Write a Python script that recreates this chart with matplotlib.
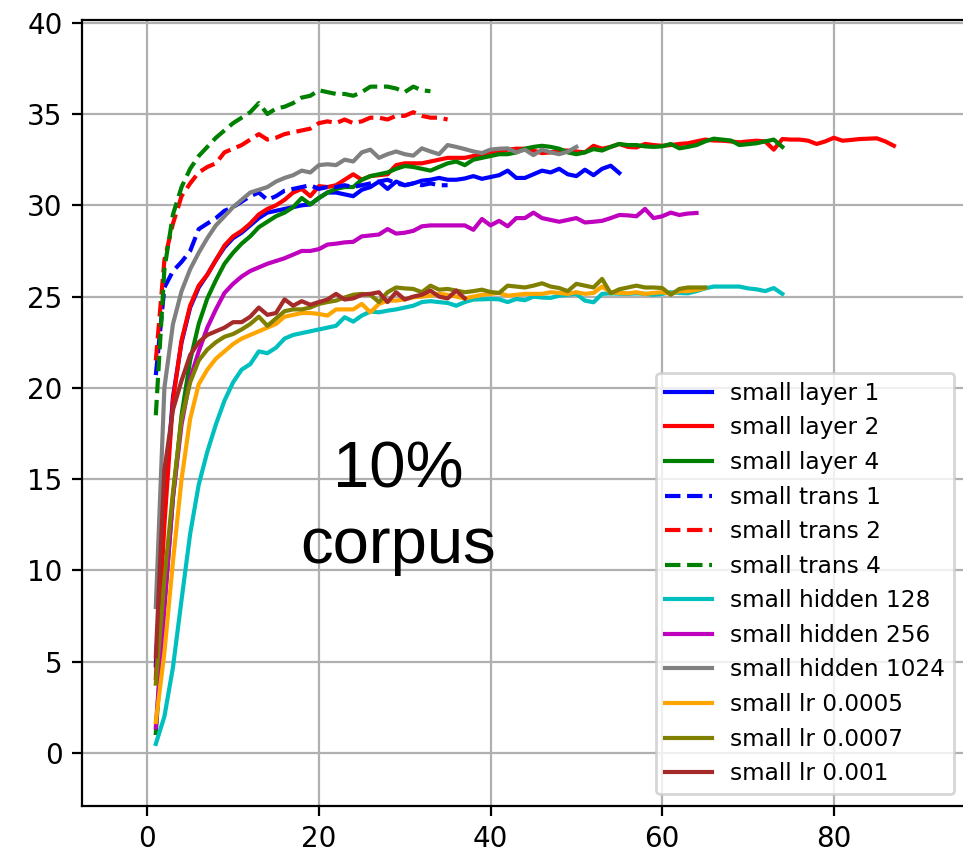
import numpy as np
import matplotlib
matplotlib.use("Agg")
import matplotlib.pyplot as plt

labels = ["small layer 1", "small layer 2", "small layer 4",
          "small trans 1", "small trans 2", "small trans 4",
          "small hidden 128", "small hidden 256", "small hidden 1024",
          "small lr 0.0005", "small lr 0.0007", "small lr 0.001"]

layer1 = [4.8, 13.5, 19.5, 22.5, 24.4, 25.5, 26.2, 27.0, 27.7, 28.2,
          28.5, 28.9, 29.3, 29.6, 29.7, 29.8, 29.9, 30.0, 30.05, 30.4,
          30.7, 30.7, 30.6, 30.5, 30.85, 31.0, 31.3, 30.9, 31.3, 31.1,
          31.2, 31.35, 31.4, 31.5, 31.4, 31.4, 31.47, 31.6, 31.45, 31.55,
          31.65, 31.9, 31.5, 31.5, 31.7, 31.9, 31.8, 32.0, 31.7, 31.6,
          31.95, 31.65, 32.0, 32.17, 31.77]
layer2 = [4.1, 12.5, 19.3, 22.6, 24.5, 25.6, 26.2, 27.0, 27.8, 28.3,
          28.6, 29.0, 29.5, 29.8, 30.0, 30.3, 30.7, 30.9, 30.5, 31.05,
          31.0, 31.1, 31.4, 31.7, 31.4, 31.6, 31.65, 31.7, 32.2, 32.3,
          32.3, 32.3, 32.4, 32.5, 32.6, 32.6, 32.6, 32.7, 32.8, 32.9,
          32.9, 33.05, 33.1, 33.1, 33.0, 32.86, 32.9, 33.0, 33.0, 32.95,
          32.9, 33.26, 33.1, 33.2, 33.36, 33.2, 33.17, 33.36, 33.3, 33.26,
          33.3, 33.36, 33.4, 33.5, 33.6, 33.55, 33.54, 33.5, 33.45, 33.5,
          33.54, 33.5, 33.05, 33.63, 33.6, 33.6, 33.54, 33.36, 33.5, 33.7,
          33.54, 33.58, 33.63, 33.65, 33.67, 33.5, 33.26]
layer4 = [1.1, 8.0, 14.0, 18.5, 21.5, 23.5, 24.9, 25.9, 26.8, 27.4,
          27.9, 28.3, 28.8, 29.1, 29.4, 29.6, 29.9, 30.4, 30.05, 30.4,
          30.7, 30.9, 31.0, 31.0, 31.4, 31.6, 31.7, 31.8, 32.0, 32.15,
          32.1, 32.0, 31.9, 32.1, 32.3, 32.4, 32.2, 32.5, 32.6, 32.7,
          32.8, 32.8, 32.9, 33.1, 33.2, 33.26, 33.2, 33.1, 32.9, 32.8,
          32.9, 33.08, 33.0, 33.2, 33.36, 33.3, 33.3, 33.23, 33.2, 33.23,
          33.36, 33.12, 33.2, 33.3, 33.5, 33.65, 33.6, 33.55, 33.3, 33.35,
          33.4, 33.5, 33.6, 33.2]
trans1 = [20.7, 25.5, 26.4, 26.9, 27.5, 28.7, 29.0, 29.3, 29.7, 29.9,
          30.2, 30.5, 30.7, 30.3, 30.5, 30.8, 30.9, 31.0, 31.1, 30.9,
          31.0, 31.0, 31.1, 31.0, 31.1, 31.2, 31.3, 31.4, 31.2, 31.1,
          31.2, 31.1, 31.2, 31.1, 31.1]
trans2 = [21.5, 27.0, 29.0, 30.5, 31.2, 31.8, 32.1, 32.3, 32.9, 33.1,
          33.3, 33.6, 33.9, 33.6, 33.7, 33.9, 34.0, 34.1, 34.2, 34.5,
          34.6, 34.5, 34.7, 34.5, 34.6, 34.8, 34.8, 34.7, 34.9, 34.9,
          35.1, 34.9, 34.8, 34.8, 34.7]
trans4 = [18.5, 26.5, 29.5, 31.0, 32.0, 32.7, 33.2, 33.7, 34.1, 34.5,
          34.8, 35.1, 35.6, 35.0, 35.3, 35.4, 35.6, 35.9, 36.0, 36.3,
          36.2, 36.1, 36.1, 36.0, 36.2, 36.5, 36.5, 36.5, 36.4, 36.2,
          36.5, 36.3, 36.25]
hidden128 = [0.5, 2.0, 4.7, 8.4, 12.0, 14.7, 16.5, 18.0, 19.3, 20.3,
             21.0, 21.3, 22.0, 21.9, 22.2, 22.7, 22.9, 23.0, 23.1, 23.2,
             23.3, 23.4, 23.87, 23.63, 23.96, 24.18, 24.14, 24.23, 24.3, 24.4,
             24.5, 24.7, 24.75, 24.7, 24.65, 24.5, 24.7, 24.84, 24.85, 24.87,
             24.85, 24.7, 24.87, 24.8, 25.0, 24.95, 24.93, 25.05, 25.1, 25.15,
             24.78, 24.69, 25.15, 25.18, 25.16, 25.15, 25.18, 25.15, 25.1, 25.15,
             25.24, 25.2, 25.18, 25.3, 25.45, 25.55, 25.55, 25.55, 25.55, 25.45,
             25.4, 25.3, 25.47, 25.15]
hidden256 = [1.4, 8.0, 14.0, 18.0, 20.5, 22.0, 23.3, 24.3, 25.2, 25.7,
             26.1, 26.4, 26.6, 26.8, 26.95, 27.1, 27.3, 27.5, 27.5, 27.6,
             27.85, 27.9, 27.97, 28.0, 28.3, 28.35, 28.4, 28.7, 28.45, 28.5,
             28.6, 28.85, 28.9, 28.9, 28.9, 28.9, 28.9, 28.66, 29.25, 28.9,
             29.15, 28.85, 29.3, 29.3, 29.6, 29.3, 29.2, 29.1, 29.2, 29.3,
             29.06, 29.1, 29.15, 29.3, 29.47, 29.45, 29.4, 29.8, 29.3, 29.4,
             29.6, 29.47, 29.55, 29.58]
hidden1024 = [8.0, 20.0, 23.5, 25.3, 26.5, 27.4, 28.2, 28.9, 29.4, 29.9,
              30.3, 30.7, 30.85, 31.0, 31.3, 31.5, 31.65, 31.9, 31.8, 32.2,
              32.25, 32.2, 32.5, 32.4, 32.9, 33.05, 32.6, 32.8, 32.95, 32.8,
              32.72, 33.12, 32.95, 32.8, 33.3, 33.2, 33.08, 32.95, 32.86, 33.05,
              33.1, 33.12, 32.9, 33.05, 32.75, 33.05, 32.9, 32.8, 32.94, 33.2]
lr0005 = [1.7, 5.5, 10.5, 15.0, 18.3, 20.2, 21.0, 21.6, 22.0, 22.4,
          22.7, 22.9, 23.1, 23.3, 23.5, 23.9, 24.0, 24.1, 24.1, 24.05,
          23.96, 24.3, 24.3, 24.3, 24.6, 24.14, 24.6, 24.78, 24.78, 24.85,
          24.96, 25.0, 25.05, 25.15, 25.1, 25.0, 24.9, 25.0, 25.1, 25.15,
          25.2, 25.05, 25.1, 25.15, 25.15, 25.15, 25.24, 25.2, 25.15, 25.24,
          25.15, 25.2, 25.55, 25.24, 25.2, 25.18, 25.24, 25.15, 25.2, 25.24,
          25.15, 25.3, 25.3, 25.37, 25.47]
lr0007 = [3.8, 9.5, 14.3, 18.3, 20.3, 21.5, 22.1, 22.5, 22.8, 22.95,
          23.2, 23.5, 23.9, 23.4, 23.8, 24.2, 24.3, 24.3, 24.4, 24.6,
          24.7, 24.78, 24.95, 25.1, 25.15, 25.1, 24.7, 25.24, 25.5, 25.45,
          25.42, 25.24, 25.6, 25.38, 25.42, 25.33, 25.24, 25.3, 25.38, 25.25,
          25.2, 25.6, 25.55, 25.5, 25.6, 25.73, 25.55, 25.47, 25.3, 25.7,
          25.6, 25.5, 25.97, 25.18, 25.4, 25.5, 25.6, 25.5, 25.5, 25.47,
          25.1, 25.42, 25.5, 25.5, 25.5]
lr001 = [5.3, 15.5, 18.8, 20.4, 21.8, 22.5, 22.9, 23.1, 23.3, 23.6,
         23.6, 23.9, 24.4, 24.0, 24.1, 24.85, 24.5, 24.75, 24.55, 24.7,
         24.84, 25.15, 24.84, 24.9, 25.1, 25.15, 25.24, 24.7, 25.24, 24.84,
         25.0, 25.1, 25.33, 25.0, 24.9, 25.33, 24.9]

series = [layer1, layer2, layer4, trans1, trans2, trans4,
          hidden128, hidden256, hidden1024, lr0005, lr0007, lr001]
colors = ["b", "r", "g", "b", "r", "g", "c", "m", "gray", "orange", "olive", "brown"]
styles = ["-", "-", "-", "--", "--", "--", "-", "-", "-", "-", "-", "-"]

xticks = [0, 20, 40, 60, 80]
yticks = [0, 5, 10, 15, 20, 25, 30, 35, 40]

fig = plt.figure(figsize=(9.63 / 2, 8.52 / 2), dpi=200)
ax = fig.add_axes([82 / 963, 1 - 806 / 852, (966 - 82) / 963, (806 - 20) / 852])

for ys, c, ls, lab in zip(series, colors, styles, labels):
    xs = np.arange(1, len(ys) + 1)
    ax.plot(xs, ys, color=c, linestyle=ls, label=lab)

ax.set_xlim(-7.6, 95.4)
ax.set_ylim(-2.9, 40.15)
ax.set_xticks(xticks)
ax.set_yticks(yticks)
ax.grid(True)
ax.text(29.2, 13.4, "10%\ncorpus", ha="center", va="center",
        fontsize=23.5, family=["Liberation Sans", "DejaVu Sans"], linespacing=1.33)
ax.legend(loc="lower right", fontsize="small")

fig.savefig("out.png", dpi=200)
